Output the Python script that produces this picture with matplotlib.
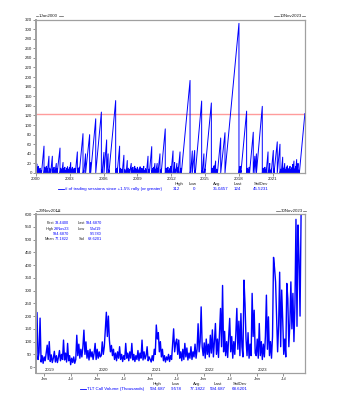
import numpy as np
import pandas as pd
import matplotlib
matplotlib.use("Agg")
import matplotlib.pyplot as plt
import matplotlib.dates as mdates
from matplotlib.lines import Line2D

plt.rcParams['font.family'] = ['Liberation Sans', 'DejaVu Sans']

# sessions since last +1.5% rally: peak of each count before it resets to 0
rally_years = [
    2000.04, 2000.07, 2000.13, 2000.20, 2000.28, 2000.36, 2000.44, 2000.49, 2000.71, 2000.78,
    2000.85, 2000.92, 2001.00, 2001.15, 2001.22, 2001.30, 2001.45, 2001.52, 2001.60, 2001.68,
    2001.80, 2001.88, 2002.13, 2002.20, 2002.28, 2002.40, 2002.48, 2002.56, 2002.64, 2002.72,
    2002.80, 2002.88, 2002.96, 2003.08, 2003.15, 2003.23, 2003.31, 2003.39, 2003.49, 2003.67,
    2003.75, 2003.84, 2004.17, 2004.24, 2004.40, 2004.76, 2004.85, 2005.30, 2005.80, 2005.86,
    2006.03, 2006.27, 2006.40, 2006.47, 2007.07, 2007.12, 2007.20, 2007.42, 2007.50, 2007.58,
    2007.65, 2007.80, 2007.90, 2008.00, 2008.10, 2008.20, 2008.30, 2008.45, 2008.52, 2008.60,
    2008.68, 2008.76, 2008.85, 2008.93, 2009.00, 2009.08, 2009.16, 2009.24, 2009.32, 2009.40,
    2009.48, 2009.56, 2009.64, 2009.72, 2009.80, 2009.94, 2010.02, 2010.06, 2010.27, 2010.35,
    2010.43, 2010.55, 2010.62, 2010.75, 2010.82, 2011.00, 2011.11, 2011.47, 2011.55, 2011.63,
    2011.71, 2011.79, 2011.87, 2011.95, 2011.98, 2012.16, 2012.22, 2012.30, 2012.38, 2012.50,
    2012.60, 2012.78, 2012.86, 2012.90, 2013.67, 2013.72, 2013.87, 2014.08, 2014.14, 2014.70,
    2014.75, 2014.90, 2014.98, 2015.56, 2015.64, 2015.72, 2015.80, 2015.94, 2016.02, 2016.10,
    2016.39, 2016.77, 2018.01, 2018.06, 2018.12, 2018.18, 2018.69, 2018.76, 2018.84, 2018.92,
    2018.95, 2019.28, 2019.42, 2019.56, 2020.08, 2020.15, 2020.23, 2020.31, 2020.39, 2020.42,
    2020.59, 2020.66, 2020.74, 2020.87, 2021.06, 2021.12, 2021.41, 2021.65, 2021.72, 2021.76,
    2021.89, 2021.96, 2022.07, 2022.14, 2022.22, 2022.30, 2022.38, 2022.46, 2022.54, 2022.62,
    2022.70, 2022.78, 2022.89, 2022.95, 2023.03, 2023.13, 2023.20, 2023.25, 2023.31, 2023.37,
    2023.86,
]
rally_peaks = [
    12, 19, 8, 14, 6, 10, 5, 3, 56, 12,
    8, 14, 9, 35, 10, 7, 35, 8, 12, 6,
    20, 9, 52, 10, 7, 22, 9, 12, 6, 10,
    13, 7, 11, 22, 8, 12, 6, 10, 9, 44,
    10, 12, 82, 5, 40, 80, 22, 113, 127, 6,
    43, 69, 40, 6, 151, 8, 10, 56, 10, 8,
    6, 37, 8, 5, 26, 10, 7, 20, 9, 12,
    6, 14, 10, 7, 12, 5, 9, 13, 6, 10,
    8, 14, 5, 9, 6, 35, 8, 4, 55, 9,
    12, 20, 8, 20, 10, 40, 8, 92, 10, 7,
    12, 6, 9, 14, 5, 46, 6, 22, 8, 20,
    12, 44, 10, 4, 193, 5, 46, 47, 6, 150,
    5, 40, 8, 146, 10, 10, 15, 25, 8, 6,
    73, 84, 312, 10, 14, 5, 129, 10, 7, 12,
    3, 85, 35, 40, 139, 10, 6, 12, 8, 5,
    44, 4, 20, 8, 47, 8, 65, 60, 8, 4,
    33, 10, 20, 7, 12, 15, 6, 10, 14, 7,
    11, 18, 25, 8, 13, 28, 8, 20, 6, 3,
    124,
]
rally_ticks = [2000, 2003, 2006, 2009, 2012, 2015, 2018, 2021]
rally_last = 124

# TLT call volume (thousands), weekly samples
vol_2018 = [33.44, 214, 30, 58, 192, 20, 45, 15]
vol_2019a = [40, 25, 55, 86, 30, 100, 22, 48, 18, 35, 62, 20, 45, 18, 38, 65, 25, 50, 30, 106,
             28, 55, 20, 93, 25, 45]
vol_2019b = [9.578, 35, 18, 40, 15, 30, 125, 45, 90, 35, 70, 40, 80, 145, 50, 99, 35, 65, 28, 70,
             40, 60, 30, 55, 93, 30]
vol_2020a = [70, 35, 60, 40, 45, 99, 50, 80, 150, 215, 120, 200, 106, 60, 85, 45, 70, 30, 55, 25,
             60, 35, 80, 30, 50, 22]
vol_2020b = [45, 30, 93, 35, 55, 25, 60, 35, 93, 28, 50, 22, 45, 30, 65, 25, 55, 35, 106, 28,
             60, 32, 45, 80, 25, 40]
vol_2021a = [30, 20, 45, 25, 70, 50, 165, 110, 135, 60, 100, 40, 70, 25, 45, 20, 40, 28, 50, 22,
             45, 30, 90, 150, 60, 95]
vol_2021b = [110, 50, 106, 35, 60, 25, 70, 30, 93, 40, 75, 28, 55, 35, 80, 30, 60, 40, 90, 35,
             70, 170, 60, 100, 236, 80]
vol_2022a = [45, 95, 35, 110, 50, 90, 40, 125, 55, 146, 40, 100, 171, 50, 110, 38, 130, 230, 80, 320,
             60, 140, 45, 100, 38, 120]
vol_2022b = [191, 60, 120, 35, 100, 50, 130, 230, 70, 180, 45, 210, 80, 40, 341, 250, 110, 45, 135, 35,
             90, 45, 289, 120, 223, 55]
vol_2023a = [45, 110, 35, 171, 45, 100, 30, 90, 40, 120, 282, 70, 197, 45, 100, 35, 120, 430, 387, 334,
             197, 60, 165, 372, 80, 302]
vol_2023b = [184, 50, 110, 40, 328, 268, 80, 171, 334, 150, 289, 100, 250, 579, 160, 557, 420, 200, 594.687]

W, H = 348, 400
BLUE = '#0000ff'
FRAME = '#a0a0a0'
FS = 3.2


def fx(px):
    return px / W


def fy(py):
    return 1 - py / H


def date_tag(x_text, y, text, left_dash, right_dash):
    fig.text(fx(x_text), fy(y), text, fontsize=3.2, ha='left', va='center', color='#222222')
    for a, b in (left_dash, right_dash):
        fig.add_artist(Line2D([fx(a), fx(b)], [fy(y), fy(y)], color='#555555', lw=0.5))


def style_axes(ax):
    for sp in ax.spines.values():
        sp.set_color(FRAME)
        sp.set_linewidth(0.9)
    ax.spines['left'].set_linewidth(1.4)
    ax.tick_params(axis='both', labelsize=FS, length=2.2, width=0.5, color='#666666',
                   pad=0.8, labelcolor='#222222')


fig = plt.figure(figsize=(3.48, 4.0), dpi=100)

# ---- top: sessions since rally ----
ax1 = fig.add_axes([fx(36), fy(173), fx(305) - fx(36), fy(19.5) - fy(173)])
xs = [2000.0]
ys = [0]
for i, (t, v) in enumerate(zip(rally_years, rally_peaks)):
    xs.append(t)
    ys.append(v)
    if i < len(rally_years) - 1:
        xs.append(t)
        ys.append(0)
ax1.axhline(rally_last, color='#ff9c9c', lw=1.0, zorder=1)
ax1.plot(xs, ys, color=BLUE, lw=0.7, zorder=2)
ax1.set_xlim(2000, 2023.87)
ax1.set_ylim(0, 320)
ax1.set_yticks(range(0, 321, 20))
ax1.set_xticks(rally_ticks)
ax1.set_xticklabels([str(t) for t in rally_ticks])
style_axes(ax1)

date_tag(38.3, 16, '1Jan2000', (35.5, 37.8), (58.8, 63))
date_tag(279.3, 16, '10Nov2023', (274, 279), (302, 305))

# stats row under top chart
for label, x in [('High', 174.3), ('Low', 188.7), ('Avg.', 213.3), ('Last', 233.3), ('StdDev', 253.3)]:
    fig.text(fx(x), fy(184.3), label, fontsize=FS, ha='left', va='center', color='#222222')
for val, x in [('312', 173.3), ('0', 192.7), ('35.0457', 213.3), ('124', 233.3), ('45.5231', 253.3)]:
    fig.text(fx(x), fy(189.3), val, fontsize=FS, ha='left', va='center', color=BLUE)
fig.add_artist(Line2D([fx(58), fx(64)], [fy(189.3)] * 2, color=BLUE, lw=0.6))
fig.text(fx(65), fy(189.3), '# of trading sessions since +1.5% rally (or greater)',
         fontsize=FS, ha='left', va='center', color=BLUE)

# ---- bottom: TLT call volume ----
volume = (vol_2018 + vol_2019a + vol_2019b + vol_2020a + vol_2020b + vol_2021a + vol_2021b
          + vol_2022a + vol_2022b + vol_2023a + vol_2023b)
dates = pd.date_range('2018-11-06', periods=len(volume), freq='7D')

ax2 = fig.add_axes([fx(36), fy(373), fx(305) - fx(36), fy(214) - fy(373)])
ax2.plot(dates, volume, color=BLUE, lw=1.0)
ax2.set_xlim(pd.Timestamp('2018-11-06'), pd.Timestamp('2023-11-27'))
ax2.set_ylim(-23, 600)
ax2.set_yticks(range(0, 601, 50))
ax2.xaxis.set_major_locator(mdates.MonthLocator(bymonth=[1, 7]))
ax2.xaxis.set_major_formatter(mdates.DateFormatter('%b'))
style_axes(ax2)
for yr in range(2019, 2024):
    ax2.text(mdates.date2num(pd.Timestamp(f'{yr}-01-08')), 0.022, str(yr),
             transform=ax2.get_xaxis_transform(), fontsize=FS, ha='left', va='center',
             color='#222222')

date_tag(38.3, 211.3, '29Nov2018', (35.5, 37.8), (55.8, 59.3))
date_tag(280.7, 211.3, '30Nov2023', (275.7, 280), (303, 305.7))

# summary box in the corner of the volume chart
SB = 2.8
box_rows = [
    (223.3, 'First', '33.4400', 'Last', '594.6870'),
    (228.7, 'High', '29Nov23', 'Low', '5Jul19'),
    (233.7, '', '594.6870', '', '9.5780'),
    (239.0, 'Mean', '77.1822', 'Std', '68.6201'),
]
for y, l1, v1, l2, v2 in box_rows:
    fig.text(fx(54), fy(y), l1, fontsize=SB, ha='right', va='center', color='#222222')
    fig.text(fx(69), fy(y), v1, fontsize=SB, ha='right', va='center', color=BLUE)
    fig.text(fx(84.7), fy(y), l2, fontsize=SB, ha='right', va='center', color='#222222')
    fig.text(fx(101.7), fy(y), v2, fontsize=SB, ha='right', va='center', color=BLUE)

for label, x in [('High', 157), ('Low', 175.8), ('Avg.', 197.5), ('Last', 217.8), ('StdDev', 239.5)]:
    fig.text(fx(x), fy(384.3), label, fontsize=FS, ha='center', va='center', color='#222222')
for val, x in [('594.687', 158.3), ('9.578', 175.8), ('77.1822', 197.5), ('594.687', 217.8),
               ('68.6201', 239.5)]:
    fig.text(fx(x), fy(389.3), val, fontsize=FS, ha='center', va='center', color=BLUE)
fig.add_artist(Line2D([fx(80), fx(85.7)], [fy(389.3)] * 2, color=BLUE, lw=0.6))
fig.text(fx(86.7), fy(389.3), 'TLT Call Volume (Thousands)', fontsize=FS, ha='left',
         va='center', color=BLUE)

fig.savefig('out.png', dpi=100)
